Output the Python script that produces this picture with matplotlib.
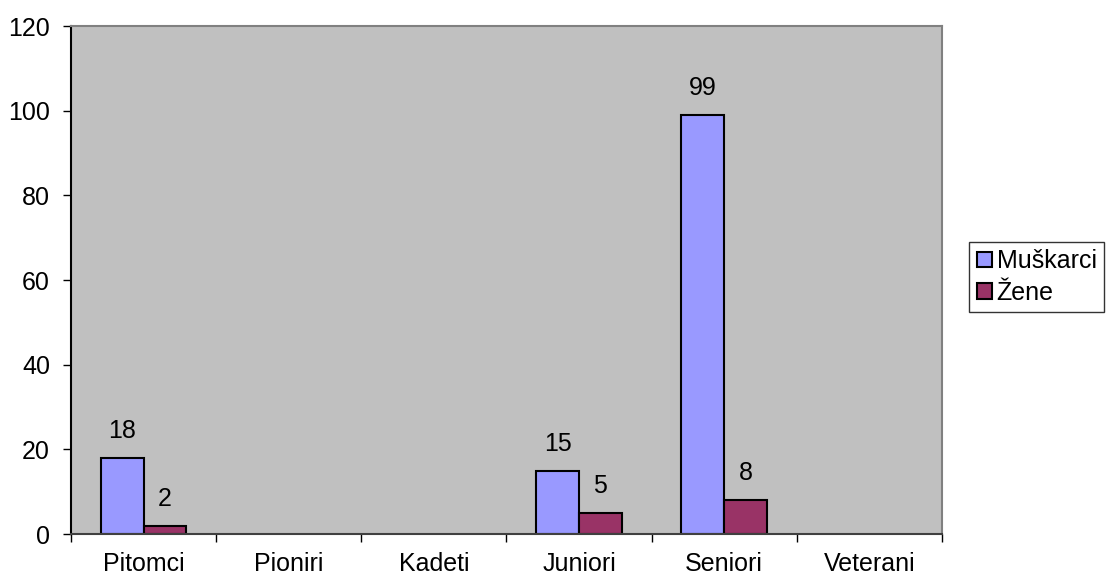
import matplotlib.pyplot as plt
import numpy as np
from matplotlib.patches import Patch

# podaci
kategorije = ["Pitomci", "Pioniri", "Kadeti", "Juniori", "Seniori", "Veterani"]
muskarci = [18, 0, 0, 15, 99, 0]
zene = [2, 0, 0, 5, 8, 0]

plt.rcParams["font.family"] = ["Liberation Sans", "DejaVu Sans"]
fs = 18

fig = plt.figure(figsize=(11.12, 5.8), dpi=100)
ax = fig.add_axes([0.0638, 0.0793, 0.7832, 0.8757])
ax.set_facecolor("#C0C0C0")

x = np.arange(len(kategorije))
w = 0.295

for i in range(len(kategorije)):
    if muskarci[i] > 0:
        ax.bar(x[i] - w / 2, muskarci[i], w, color="#9999FF", edgecolor="black", linewidth=1.5)
        ax.text(x[i] - w / 2, muskarci[i] + 3.5, str(muskarci[i]), ha="center", va="bottom", fontsize=fs)
    if zene[i] > 0:
        ax.bar(x[i] + w / 2, zene[i], w, color="#993366", edgecolor="black", linewidth=1.5)
        ax.text(x[i] + w / 2, zene[i] + 3.5, str(zene[i]), ha="center", va="bottom", fontsize=fs)

ax.set_xlim(-0.5, len(kategorije) - 0.5)
ax.set_ylim(0, 120)
ax.set_yticks(range(0, 121, 20))
ax.tick_params(axis="y", labelsize=fs, length=6, width=1, pad=9)

ax.set_xticks(x)
ax.set_xticklabels(kategorije, fontsize=fs)
ax.tick_params(axis="x", length=0, pad=13)
ax.set_xticks(np.arange(-0.5, len(kategorije)), minor=True)
ax.tick_params(axis="x", which="minor", length=6, width=1)

ax.spines["left"].set_color("black")
ax.spines["bottom"].set_color("#404040")
ax.spines["top"].set_color("#808080")
ax.spines["right"].set_color("#808080")
for s in ax.spines.values():
    s.set_linewidth(1.5)

rucke = [Patch(facecolor="#9999FF", edgecolor="black", linewidth=1.5, label="Muškarci"),
         Patch(facecolor="#993366", edgecolor="black", linewidth=1.5, label="Žene")]
leg = fig.legend(handles=rucke, loc="upper left", bbox_to_anchor=(0.8715, 0.583),
                 fontsize=fs, frameon=True, fancybox=False, edgecolor="black",
                 handlelength=0.6, handleheight=0.6, handletextpad=0.2,
                 borderpad=0.3, labelspacing=0.3, borderaxespad=0)
leg.get_frame().set_linewidth(1)

fig.savefig("out.png", dpi=100)
